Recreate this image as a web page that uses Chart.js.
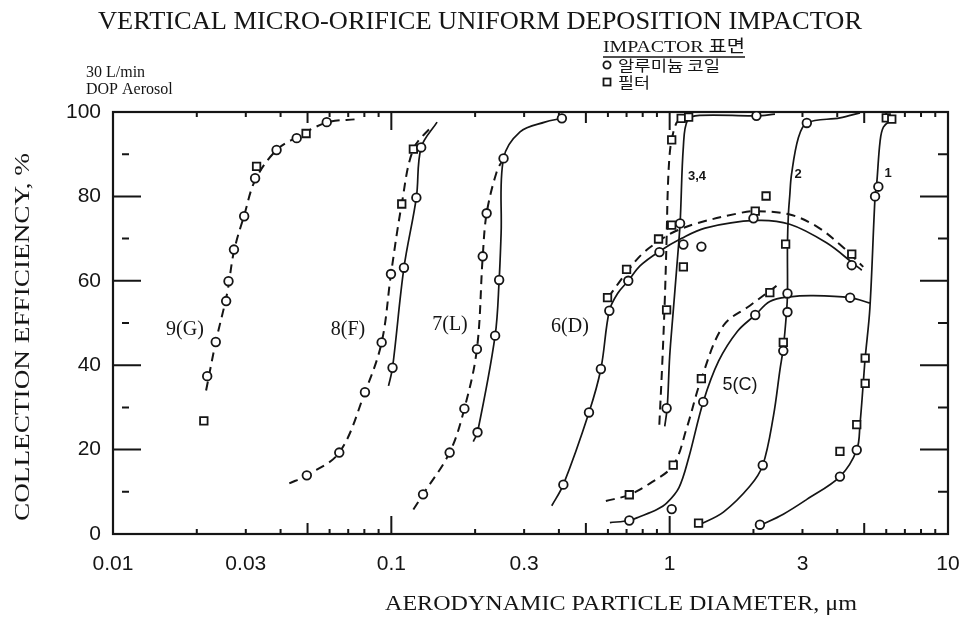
<!DOCTYPE html>
<html>
<head>
<meta charset="utf-8">
<script src="https://cdn.jsdelivr.net/npm/chart.js@4/dist/chart.umd.min.js"></script>
<style>
  html, body { margin: 0; padding: 0; background: #fff; }
  #wrap { width: 967px; height: 638px; }
</style>
</head>
<body>
<div id="wrap"><canvas id="chart" width="967" height="638"></canvas></div>
<script>
// Axis ticks
const xTicks = [0.01, 0.03, 0.1, 0.3, 1, 3, 10];
const xTickLabels = ['0.01', '0.03', '0.1', '0.3', '1', '3', '10'];
const yTicks = [0, 20, 40, 60, 80, 100];

// Fitted curves  [diameter µm, efficiency %]
const g9Dashed = [[0.0216,34],[0.0234,45.5],[0.0257,57],[0.0272,67],[0.0296,75.5],[0.0325,84],[0.0387,91],[0.0457,94],[0.0586,97.5],[0.075,98.3]];
const f8Dashed = [[0.043,12],[0.0497,13.9],[0.065,19.3],[0.0804,33.6],[0.0923,45.4],[0.0997,61.6],[0.109,78.2],[0.120,91.2],[0.141,96.9]];
const f8Solid = [[0.0977,35.1],[0.101,39.4],[0.111,63.1],[0.123,79.7],[0.128,91.6],[0.146,97.6]];
const l7Dashed = [[0.120,5.8],[0.130,9.4],[0.162,19.3],[0.183,29.7],[0.203,43.8],[0.213,65.8],[0.220,76],[0.239,85.8],[0.253,89]];
const l7Solid = [[0.197,21.9],[0.204,24.1],[0.236,47],[0.244,60.2],[0.248,71.3],[0.253,89],[0.29,95.3],[0.356,97.6],[0.41,98.5]];
const d6Solid = [[0.377,6.7],[0.415,11.7],[0.513,28.8],[0.566,39.1],[0.607,52.9],[0.65,57],[0.71,60],[0.784,63.6],[0.92,67],[1.1,70],[1.34,72.5],[2.03,74.3],[2.7,73.4],[3.66,69],[4.57,64.1],[4.9,62.5]];
const d6Dashed = [[0.60,56],[0.71,62.5],[0.80,66.5],[0.92,69.5],[1.03,71.5],[1.25,73.6],[1.74,75.9],[2.03,76.5],[2.7,75.7],[3.37,72.9],[4.09,68.6],[4.96,63.3]];
const c5Solid = [[0.61,2.7],[0.716,3.2],[0.78,4.1],[0.90,5.8],[0.975,7.3],[1.08,11],[1.17,18],[1.32,31.3],[1.5,41],[1.75,48],[2.03,51.9],[2.29,55.1],[2.7,56.2],[3.28,56.5],[4.45,56],[5.24,54.7]];
const c5Dashed = [[0.59,7.8],[0.716,9.3],[0.85,12],[1.03,16.3],[1.15,25],[1.30,36.8],[1.56,49.4],[1.94,54.1],[2.42,58.8]];
const c34Dashed = [[0.918,25.9],[0.94,40],[0.96,55],[0.975,70],[0.985,82],[1.0,90],[1.017,93.4],[1.06,97.5],[1.12,98.5]];
const c34Solid = [[0.96,25.5],[0.98,30],[1.0,42],[1.03,52.8],[1.06,63],[1.09,73.6],[1.12,91.8],[1.16,98.1],[1.28,99.2],[2.05,99.1],[2.39,99.5]];
const c2Solid = [[1.27,2.1],[1.56,5.2],[1.94,11.3],[2.16,16.3],[2.36,28],[2.49,38.9],[2.56,44.1],[2.63,52.6],[2.65,57],[2.65,68.7],[2.67,75.7],[2.70,80.1],[2.74,85.2],[2.90,93.9],[3.11,97.4],[4.09,98.6],[4.83,99.8]];
const c1Solid = [[2.11,2.0],[2.56,4.7],[3.11,8.2],[4.09,13.6],[4.70,19.9],[4.83,26.2],[4.96,35.7],[5.04,41.7],[5.24,53.5],[5.47,80],[5.54,82.7],[5.70,93],[5.86,96.4],[6.28,98.3]];

// Measured points: circles = aluminium coil, squares = filter
const coilPoints = [
  [0.0218,37.4],[0.0234,45.5],[0.0255,55.2],[0.0260,59.9],[0.0272,67.4],[0.0296,75.3],[0.0324,84.3],[0.0387,91],[0.0457,93.8],[0.0586,97.6],
  [0.0497,13.9],[0.065,19.3],[0.0804,33.6],[0.0923,45.4],[0.0997,61.6],[0.101,39.4],[0.111,63.1],[0.123,79.7],[0.128,91.6],
  [0.130,9.4],[0.162,19.3],[0.183,29.7],[0.203,43.8],[0.213,65.8],[0.220,76],[0.204,24.1],[0.236,47],[0.244,60.2],[0.253,89],[0.41,98.5],
  [0.415,11.7],[0.513,28.8],[0.566,39.1],[0.607,52.9],[0.710,60],[0.919,66.8],[1.12,68.6],[1.30,68.1],[2.00,74.8],[4.51,63.7],
  [0.716,3.2],[1.017,5.9],[1.32,31.3],[2.03,51.9],[4.45,56],
  [0.975,29.8],[1.09,73.6],[2.05,99.1],
  [2.16,16.3],[2.56,43.4],[2.65,52.6],[2.65,57],[3.11,97.4],
  [2.11,2.2],[4.09,13.6],[4.70,19.9],[5.47,80],[5.62,82.3]
];
const filterPoints = [
  [0.0212,26.8],[0.0328,87.1],[0.0494,94.9],
  [0.109,78.2],[0.120,91.2],
  [0.598,56],[0.70,62.7],[0.912,69.9],[1.12,63.3],[2.03,76.5],[2.22,80.1],[4.51,66.3],
  [0.716,9.3],[1.03,16.3],[1.30,36.8],[2.29,57.2],
  [0.975,53.1],[1.017,73.2],[1.017,93.4],[1.10,98.5],[1.17,98.8],
  [1.27,2.6],[2.56,45.4],[2.61,68.7],
  [4.09,19.6],[4.70,25.9],[5.04,35.7],[5.04,41.7],[6.0,98.6],[6.28,98.3]
];

const INK = '#151515';
const SERIF = '"Liberation Serif", "Noto Sans CJK KR", serif';

function toXY(arr) {
    return arr.map(([x, y]) => ({ x, y }));
}

function curve(arr, dashed) {
    return {
        type: 'line',
        data: toXY(arr),
        borderColor: INK,
        borderWidth: dashed ? 2 : 1.7,
        borderDash: dashed ? [9, 6] : [],
        pointRadius: 0,
        tension: 0.35,
        fill: false,
        order: 1
    };
}

function marks(arr, style) {
    return {
        type: 'scatter',
        data: toXY(arr),
        pointStyle: style,
        pointRadius: style === 'rect' ? 5.3 : 4.3,
        pointBorderWidth: 1.8,
        pointBorderColor: INK,
        pointBackgroundColor: '#fff',
        showLine: false,
        order: 0
    };
}

// Draw text squeezed to a given width (scan font is condensed)
function fitText(ctx, text, x, y, width, align) {
    const w = ctx.measureText(text).width;
    const s = width ? width / w : 1;
    ctx.save();
    ctx.translate(x, y);
    ctx.scale(s, 1);
    ctx.textAlign = align || 'left';
    ctx.fillText(text, 0, 0);
    ctx.restore();
}

const frame = {
    id: 'frame',
    beforeDatasetsDraw(chart) {
        const { ctx, chartArea: a, scales } = chart;
        const xs = scales.x, ys = scales.y;
        ctx.save();
        ctx.strokeStyle = INK;
        ctx.lineWidth = 2.2;
        ctx.strokeRect(a.left, a.top, a.right - a.left, a.bottom - a.top);

        ctx.lineWidth = 2;
        ctx.beginPath();
        // left / right ticks
        for (let v = 10; v < 100; v += 10) {
            const py = ys.getPixelForValue(v);
            if (v % 20 === 0) {
                ctx.moveTo(a.left, py); ctx.lineTo(a.left + 28, py);
                ctx.moveTo(a.right - 28, py); ctx.lineTo(a.right, py);
            } else {
                ctx.moveTo(a.left + 9, py); ctx.lineTo(a.left + 16, py);
                ctx.moveTo(a.right - 10, py); ctx.lineTo(a.right, py);
            }
        }
        // top / bottom log ticks
        [0.01, 0.1, 1].forEach(d => {
            for (let m = 2; m <= 10; m++) {
                const v = m * d;
                if (v > 10) continue;
                const px = xs.getPixelForValue(v);
                const len = m === 10 ? 18 : (m === 5 ? 11 : 5);
                ctx.moveTo(px, a.bottom); ctx.lineTo(px, a.bottom - len);
                ctx.moveTo(px, a.top); ctx.lineTo(px, a.top + len);
            }
        });
        ctx.stroke();
        ctx.restore();
    },
    afterDraw(chart) {
        const { ctx } = chart;
        ctx.save();
        ctx.fillStyle = INK;
        ctx.strokeStyle = INK;
        ctx.textBaseline = 'alphabetic';

        // Title
        ctx.font = '26px ' + SERIF;
        fitText(ctx, 'VERTICAL MICRO-ORIFICE UNIFORM DEPOSITION IMPACTOR', 480, 29, 764, 'center');

        // Run conditions
        ctx.font = '16px ' + SERIF;
        fitText(ctx, '30 L/min', 86, 77, 0);
        fitText(ctx, 'DOP Aerosol', 86, 94, 0);

        // Legend
        ctx.font = '17px ' + SERIF;
        fitText(ctx, 'IMPACTOR 표면', 603, 52, 142);
        ctx.lineWidth = 1.5;
        ctx.beginPath();
        ctx.moveTo(603, 57); ctx.lineTo(745, 57);
        ctx.stroke();
        ctx.font = '15px "Noto Sans CJK KR", sans-serif';
        fitText(ctx, '알루미늄 코일', 618, 71, 102);
        fitText(ctx, '필터', 618, 88, 32);
        ctx.lineWidth = 1.8;
        ctx.beginPath();
        ctx.arc(607, 65, 3.6, 0, Math.PI * 2);
        ctx.stroke();
        ctx.strokeRect(603.5, 78.5, 7, 7);

        // Curve labels
        ctx.font = '20px ' + SERIF;
        fitText(ctx, '9(G)', 185, 335, 0, 'center');
        fitText(ctx, '8(F)', 348, 335, 0, 'center');
        fitText(ctx, '7(L)', 450, 330, 0, 'center');
        fitText(ctx, '6(D)', 570, 332, 0, 'center');
        ctx.font = '18px "Liberation Sans", sans-serif';
        fitText(ctx, '5(C)', 740, 390, 0, 'center');
        ctx.font = 'bold 13px "Liberation Sans", sans-serif';
        fitText(ctx, '3,4', 697, 180, 0, 'center');
        fitText(ctx, '2', 798, 178, 0, 'center');
        fitText(ctx, '1', 888, 177, 0, 'center');

        // Axis titles
        ctx.font = '20px ' + SERIF;
        fitText(ctx, 'AERODYNAMIC PARTICLE DIAMETER, μm', 621, 610, 472, 'center');
        ctx.save();
        ctx.translate(29, 337);
        ctx.rotate(-Math.PI / 2);
        ctx.font = '20px ' + SERIF;
        fitText(ctx, 'COLLECTION EFFICIENCY, %', 0, 0, 368, 'center');
        ctx.restore();

        ctx.restore();
    }
};

new Chart(document.getElementById('chart'), {
    type: 'scatter',
    data: {
        datasets: [
            marks(coilPoints, 'circle'),
            marks(filterPoints, 'rect'),
            curve(g9Dashed, true),
            curve(f8Dashed, true),
            curve(f8Solid, false),
            curve(l7Dashed, true),
            curve(l7Solid, false),
            curve(d6Solid, false),
            curve(d6Dashed, true),
            curve(c5Solid, false),
            curve(c5Dashed, true),
            curve(c34Dashed, true),
            curve(c34Solid, false),
            curve(c2Solid, false),
            curve(c1Solid, false)
        ]
    },
    options: {
        responsive: false,
        animation: false,
        events: [],
        layout: { padding: { top: 112, right: 19, left: 0, bottom: 0 } },
        plugins: {
            legend: { display: false },
            tooltip: { enabled: false }
        },
        scales: {
            x: {
                type: 'logarithmic',
                min: 0.01,
                max: 10,
                grid: { display: false },
                border: { display: false },
                afterBuildTicks: scale => {
                    scale.ticks = xTicks.map(v => ({ value: v }));
                },
                afterFit: scale => {
                    scale.height = 104;
                    scale.paddingLeft = 0;
                    scale.paddingRight = 0;
                },
                ticks: {
                    autoSkip: false,
                    maxRotation: 0,
                    padding: 10,
                    color: INK,
                    font: { family: 'Liberation Sans', size: 21 },
                    callback: value => {
                        const i = xTicks.indexOf(value);
                        return i >= 0 ? xTickLabels[i] : '';
                    }
                }
            },
            y: {
                min: 0,
                max: 100,
                grid: { display: false },
                border: { display: false },
                afterBuildTicks: scale => {
                    scale.ticks = yTicks.map(v => ({ value: v }));
                },
                afterFit: scale => {
                    scale.width = 113;
                    scale.paddingTop = 0;
                    scale.paddingBottom = 0;
                },
                ticks: {
                    padding: 4,
                    color: INK,
                    font: { family: 'Liberation Sans', size: 21 }
                }
            }
        }
    },
    plugins: [frame]
});
</script>
</body>
</html>
